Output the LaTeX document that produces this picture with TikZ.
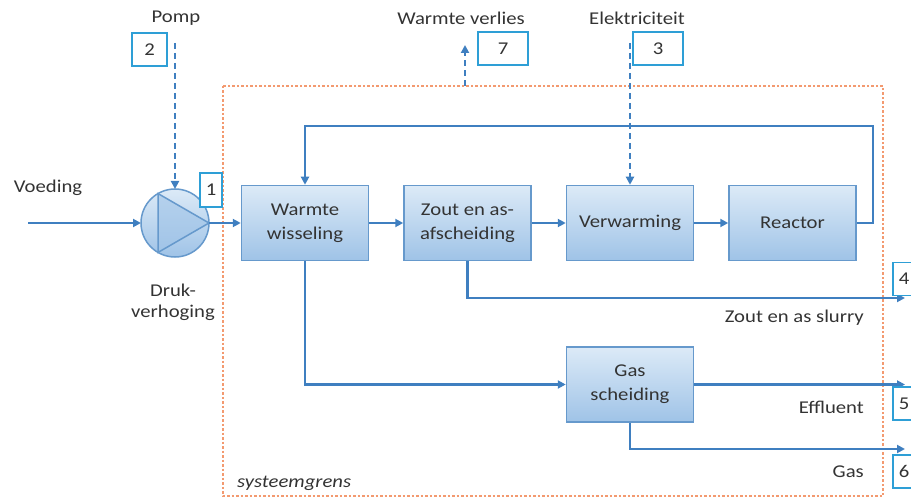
\documentclass[tikz,border=0pt]{standalone}
\usepackage{fontspec}
\setmainfont{Carlito}[FakeStretch=1.15]
\usetikzlibrary{positioning, arrows.meta, calc}

\definecolor{sblue}{HTML}{3F7FC0}
\definecolor{btop}{HTML}{DCEAF7}
\definecolor{bbot}{HTML}{9FC3E7}
\definecolor{bedge}{HTML}{6699CC}
\definecolor{nblue}{HTML}{2E9FD6}
\definecolor{sorange}{HTML}{F39A70}
\definecolor{txt}{HTML}{333333}

\tikzset{
proc/.style = {%
    draw=bedge, line width=1.5pt, top color=btop, bottom color=bbot,
    minimum width=127pt, minimum height=75pt, inner sep=2pt,
    align=center, text=txt},
numbox/.style = {%
    draw=nblue, line width=1.5pt, fill=white,
    minimum width=#1, minimum height=33pt, inner sep=0pt, text=txt},
    numbox/.default = 35pt % width of the number box
}

\begin{document}
\begin{tikzpicture}[%
        x=1pt, y=-1pt,
        font=\fontsize{18}{24}\selectfont,
        node distance=34pt,
        flow/.style = {draw=sblue, line width=2.6pt, -{Triangle[length=8pt,width=8pt]}},
        energy/.style = {flow, dash pattern=on 6pt off 4pt},
        lbl/.style = {text=txt, inner sep=0pt}
    ]
        % Page size
        \clip (0,0) rectangle (911,500);

        % System boundary
        \draw[sorange, line width=1.6pt, dash pattern=on 2.5pt off 2pt]
            (223,86) rectangle (883,496);
        \node[lbl, anchor=west, font=\fontsize{18}{23}\selectfont\itshape]
            (grens) at (237,483) {systeemgrens};

        % Process blocks
        \node[proc] (ww) at (305,223) {Warmte\\wisseling};
        \node[proc, right=of ww]   (zout) {Zout en as-\\afscheiding};
        \node[proc, right=of zout] (verw) {Verwarming};
        \node[proc, right=of verw] (reac) {Reactor};
        \node[proc, below=85pt of verw] (gas) {Gas\\scheiding};

        % Pump
        \node[circle, draw=bedge, line width=1.5pt, top color=btop, bottom color=bbot,
              minimum size=68pt, inner sep=0pt, outer sep=0pt] (pump) at (175,223) {};
        \draw[bedge, line width=1.5pt, fill=bbot, fill opacity=0.6]
            (pump.0) -- (pump.120) -- (pump.240) -- cycle;
        \node[lbl, align=center, font=\fontsize{18}{21}\selectfont]
            (druk) at (173,302) {Druk-\\verhoging};

        % Free ends
        \coordinate (feed)   at (28,223);
        \coordinate (pomp)   at (175,43);
        \coordinate (elek)   at (verw.north |- 0,43);
        \coordinate (lossb)  at (465,86);
        \coordinate (losst)  at (465,45);
        \coordinate (loop)   at (873,126);
        \coordinate (out4)   at (905,298);
        \coordinate (out5)   at (905,383);
        \coordinate (out6)   at (905,449);

        % Streams
        \draw[flow] (feed) -- (pump.west);
        \draw[flow] (pump.east) -- (ww.west);
        \draw[flow] (ww) -- (zout);
        \draw[flow] (zout) -- (verw);
        \draw[flow] (verw) -- (reac);
        \draw[flow] (reac.east) -| (loop) -| (ww.north);
        \draw[flow] (ww.south) |- (gas.west);
        \draw[flow] (zout.south) |- (out4);
        \draw[flow] (gas.east) -- (gas.east -| out5);
        \draw[flow] (gas.south) |- (out6);

        % Energy streams
        \draw[energy] (pomp) -- (pump.north);
        \draw[energy] (elek) -- (verw.north);
        \draw[energy] (lossb) -- (losst);

        % Stream labels
        \node[lbl] (voeding)  at (48,188)  {Voeding};
        \node[lbl] (pomplbl)  at (176,18)  {Pomp};
        \node[lbl] (verlies)  at (461,18)  {Warmte verlies};
        \node[lbl] (elekt)    at (637,18)  {Elektriciteit};
        \node[lbl, anchor=east] (slurry)   at (864,318) {Zout en as slurry};
        \node[lbl, anchor=east] (effluent) at (864,407) {Effluent};
        \node[lbl, anchor=east] (gaslbl)   at (864,472) {Gas};

        % Stream numbers
        \node[numbox=22pt, minimum height=34pt] (n1) at (211,190) {1};
        \node[numbox]       (n2) at (149.5,49.5) {2};
        \node[numbox=50pt]  (n3) at (658,48.5)   {3};
        \node[numbox=22pt]  (n4) at (904,279)    {4};
        \node[numbox=22pt]  (n5) at (904,403.5)  {5};
        \node[numbox=22pt]  (n6) at (904,471.5)  {6};
        \node[numbox=50pt]  (n7) at (503,48.5)   {7};

    \end{tikzpicture}
\end{document}
